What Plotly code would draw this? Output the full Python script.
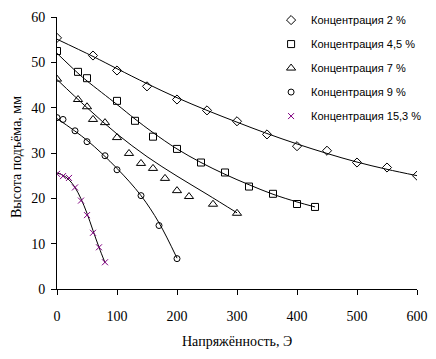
import plotly.graph_objects as go

# Measured points
x_2 = [0, 60, 100, 150, 200, 250, 300, 350, 400, 450, 500, 550, 600]
y_2 = [55.4, 51.5, 48.2, 44.7, 41.8, 39.4, 37.0, 34.1, 31.5, 30.5, 27.9, 26.8, 25.0]

x_45 = [0, 35, 50, 100, 130, 160, 200, 240, 280, 320, 360, 400, 430]
y_45 = [52.5, 47.9, 46.5, 41.5, 37.1, 33.6, 30.9, 27.9, 25.7, 22.6, 21.0, 18.75, 18.1]

x_7 = [0, 35, 50, 60, 80, 100, 120, 140, 160, 180, 200, 220, 260, 300]
y_7 = [46.3, 41.8, 40.2, 37.4, 36.7, 33.4, 29.9, 27.7, 26.6, 24.4, 21.7, 20.4, 18.7, 16.7]

x_9 = [0, 10, 30, 50, 80, 100, 140, 170, 200]
y_9 = [37.8, 37.4, 34.9, 32.5, 29.4, 26.3, 20.6, 14.0, 6.7]

x_153 = [0, 10, 20, 30, 40, 50, 60, 70, 80]
y_153 = [25.4, 24.9, 24.5, 22.4, 19.5, 16.3, 12.4, 9.2, 5.9]

# Trend curves
fx_2 = [0, 60, 100, 150, 200, 250, 300, 350, 400, 450, 500, 550, 600]
fy_2 = [55.1, 51.3, 48.6, 45.3, 42.2, 39.4, 36.8, 34.3, 32.0, 29.9, 28.0, 26.4, 25.0]

fx_45 = [0, 35, 50, 100, 130, 160, 200, 240, 280, 320, 360, 400, 430]
fy_45 = [52.0, 47.6, 45.9, 40.7, 37.5, 34.5, 30.9, 27.9, 25.3, 23.0, 20.9, 19.2, 18.1]

fx_7 = [0, 50, 100, 150, 200, 250, 300]
fy_7 = [46.2, 40.0, 34.2, 29.2, 24.9, 20.9, 16.8]

fx_9 = [0, 50, 100, 140, 170, 200]
fy_9 = [37.6, 32.8, 26.6, 20.6, 14.6, 6.8]

fx_153 = [0, 10, 20, 30, 40, 50, 60, 70, 80]
fy_153 = [25.6, 25.1, 24.1, 22.4, 19.9, 16.7, 12.9, 9.2, 5.8]

names = ["Концентрация 2 %", "Концентрация 4,5 %", "Концентрация 7 %",
         "Концентрация 9 %", "Концентрация 15,3 %"]
x_title = "Напряжённость, Э"
y_title = "Высота подъёма, мм"

points = [(x_2, y_2), (x_45, y_45), (x_7, y_7), (x_9, y_9), (x_153, y_153)]
fits = [(fx_2, fy_2), (fx_45, fy_45), (fx_7, fy_7), (fx_9, fy_9), (fx_153, fy_153)]
symbols = ["diamond-open", "square-open", "triangle-up-open", "circle-open", "x-thin-open"]
sizes = [7, 7, 8, 6, 6]
colors = ["black", "black", "black", "black", "#800080"]

fig = go.Figure()
for i in range(5):
    fx, fy = fits[i]
    fig.add_trace(go.Scatter(x=fx, y=fy, mode="lines",
                             line=dict(color="black", width=1, shape="spline"),
                             showlegend=False, hoverinfo="skip"))
for i in range(5):
    px, py = points[i]
    fig.add_trace(go.Scatter(x=px, y=py, mode="markers", name=names[i],
                             legendgroup=str(i),
                             marker=dict(symbol=symbols[i], size=sizes[i],
                                         color=colors[i],
                                         line=dict(color=colors[i], width=1))))

fig.update_layout(
    width=436, height=359,
    margin=dict(l=49, r=27, t=9, b=78, autoexpand=False),
    paper_bgcolor="white", plot_bgcolor="white",
    font=dict(family="Liberation Serif", size=14, color="black"),
    showlegend=True,
    legend=dict(x=1.028, y=1.042, xanchor="right", yanchor="top",
                font=dict(family="Liberation Sans", size=11, color="black"),
                bgcolor="rgba(0,0,0,0)", tracegroupgap=5,
                itemwidth=30),
    xaxis=dict(range=[0, 600], dtick=100, showgrid=False, zeroline=False,
               showline=True, linecolor="black", linewidth=1,
               ticks="outside", ticklen=5, tickcolor="black",
               ticklabelstandoff=9, automargin=False),
    yaxis=dict(range=[0, 60], dtick=10, showgrid=False, zeroline=False,
               showline=True, linecolor="black", linewidth=1,
               ticks="outside", ticklen=5, tickcolor="black",
               ticklabelstandoff=3, automargin=False),
    annotations=[
        dict(text=x_title, xref="paper", yref="paper", x=0.5, y=-52 / 272,
             xanchor="center", yanchor="middle", showarrow=False,
             font=dict(family="Liberation Serif", size=14)),
        dict(text=y_title, xref="paper", yref="paper", x=-41 / 360, y=0.485,
             xanchor="center", yanchor="middle", showarrow=False, textangle=-90,
             font=dict(family="Liberation Serif", size=14)),
    ],
)

fig.write_html("out.html")
